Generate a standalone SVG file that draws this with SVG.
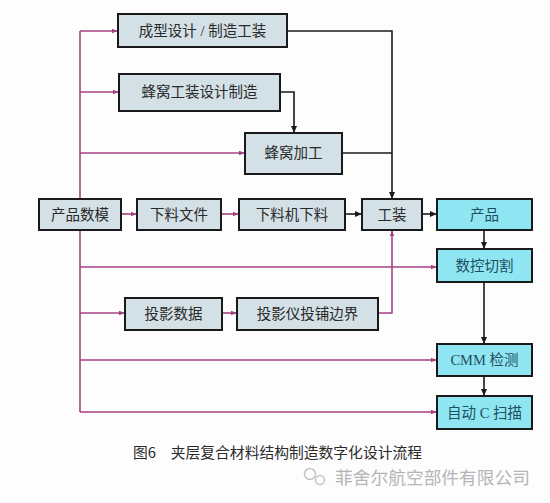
<svg xmlns="http://www.w3.org/2000/svg" width="550" height="503" viewBox="0 0 550 503">
<style>
.box{fill:#d3e0e6;stroke:#1a1a1a;stroke-width:2}
.cyan{fill:#8fe6f2;stroke:#1a1a1a;stroke-width:2}
.t{font-family:"Liberation Serif","Noto Sans CJK SC",serif;font-size:14.5px;fill:#2a2a2a;text-anchor:middle;dominant-baseline:central}
.tc{fill:#1d4f5e}
.pk{fill:none;stroke:#a4427f;stroke-width:1.6}
.bk{fill:none;stroke:#1a1a1a;stroke-width:1.6}
</style>
<defs>
<marker id="ap" viewBox="0 0 10 10" refX="9" refY="5" markerWidth="6" markerHeight="6" orient="auto" markerUnits="userSpaceOnUse"><path d="M0,1 L10,5 L0,9 z" fill="#a4427f"/></marker>
<marker id="ab" viewBox="0 0 10 10" refX="9" refY="5" markerWidth="7" markerHeight="7" orient="auto" markerUnits="userSpaceOnUse"><path d="M0,0.5 L10,5 L0,9.5 z" fill="#1a1a1a"/></marker>
</defs>
<rect width="550" height="503" fill="#fdfdfe"/>
<g id="connectors">
<path class="pk" d="M80,31 V412"/>
<path class="pk" d="M80,31 H117" marker-end="url(#ap)"/>
<path class="pk" d="M80,92 H118" marker-end="url(#ap)"/>
<path class="pk" d="M80,153 H244" marker-end="url(#ap)"/>
<path class="pk" d="M121,214 H136" marker-end="url(#ap)"/>
<path class="pk" d="M221,214 H238" marker-end="url(#ap)"/>
<path class="pk" d="M80,267 H436" marker-end="url(#ap)"/>
<path class="pk" d="M80,313 H124" marker-end="url(#ap)"/>
<path class="pk" d="M222,313 H236" marker-end="url(#ap)"/>
<path class="pk" d="M378,313 H392 V231" marker-end="url(#ap)"/>
<path class="pk" d="M80,360 H436" marker-end="url(#ap)"/>
<path class="pk" d="M80,412 H436" marker-end="url(#ap)"/>
<path class="bk" d="M287,31 H392 V198" marker-end="url(#ab)"/>
<path class="bk" d="M342,153 H392"/>
<path class="bk" d="M280,92 H294 V132" marker-end="url(#ab)"/>
<path class="bk" d="M345,214 H361" marker-end="url(#ab)"/>
<path class="bk" d="M422,214 H436" marker-end="url(#ab)"/>
<path class="bk" d="M484,230 V248" marker-end="url(#ab)"/>
<path class="bk" d="M484,283 V343" marker-end="url(#ab)"/>
<path class="bk" d="M484,376 V395" marker-end="url(#ab)"/>
</g>
<g id="n1"><rect class="box" x="118" y="14" width="169" height="33"/><text class="t" x="202.5" y="31">成型设计 / 制造工装</text></g>
<g id="n2"><rect class="box" x="119" y="74" width="161" height="37"/><text class="t" x="199.5" y="92">蜂窝工装设计制造</text></g>
<g id="n3"><rect class="box" x="245" y="133" width="97" height="41"/><text class="t" x="293.5" y="153">蜂窝加工</text></g>
<g id="n4"><rect class="box" x="39" y="199" width="82" height="31"/><text class="t" x="80" y="214.5">产品数模</text></g>
<g id="n5"><rect class="box" x="137" y="199" width="84" height="31"/><text class="t" x="179" y="214.5">下料文件</text></g>
<g id="n6"><rect class="box" x="239" y="199" width="106" height="31"/><text class="t" x="292" y="214.5">下料机下料</text></g>
<g id="n7"><rect class="box" x="362" y="199" width="60" height="31"/><text class="t" x="392" y="214.5">工装</text></g>
<g id="n8"><rect class="cyan" x="437" y="199" width="95" height="31"/><text class="t tc" x="484.5" y="214.5">产品</text></g>
<g id="n9"><rect class="cyan" x="437" y="249" width="95" height="33"/><text class="t tc" x="484.5" y="265.5">数控切割</text></g>
<g id="n10"><rect class="box" x="125" y="298" width="97" height="32"/><text class="t" x="173.5" y="314">投影数据</text></g>
<g id="n11"><rect class="box" x="237" y="298" width="141" height="32"/><text class="t" x="307.5" y="314">投影仪投铺边界</text></g>
<g id="n12"><rect class="cyan" x="437" y="344" width="95" height="32"/><text class="t tc" x="484.5" y="360">CMM 检测</text></g>
<g id="n13"><rect class="cyan" x="437" y="396" width="95" height="33"/><text class="t tc" x="484.5" y="412.5">自动 C 扫描</text></g>
<text x="133" y="451" font-family="'Noto Sans CJK SC',sans-serif" font-size="14.5" fill="#2a2a2a" dominant-baseline="central" textLength="289" lengthAdjust="spacingAndGlyphs">图6　夹层复合材料结构制造数字化设计流程</text>
<g id="watermark" fill="none" stroke="#c4c4c4" stroke-width="1.5">
<circle cx="310" cy="474" r="5.5"/>
<circle cx="320" cy="480" r="4.5"/>
</g>
<text x="335" y="476" font-family="'Noto Sans CJK SC',sans-serif" font-size="17.5" fill="#b5b5b5" dominant-baseline="central" textLength="195" lengthAdjust="spacingAndGlyphs">菲舍尔航空部件有限公司</text>
</svg>
